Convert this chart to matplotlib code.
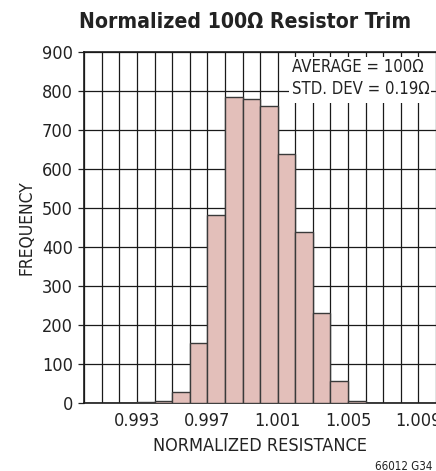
import matplotlib
matplotlib.use("Agg")
import matplotlib.pyplot as plt
from matplotlib import font_manager as fm
from matplotlib.font_manager import FontProperties
import numpy as np
import os

# Data
bin_left = [0.990, 0.991, 0.992, 0.993, 0.994, 0.995, 0.996, 0.997, 0.998, 0.999,
            1.000, 1.001, 1.002, 1.003, 1.004, 1.005, 1.006, 1.007, 1.008, 1.009]
frequency = [0, 0, 0, 2, 5, 27, 152, 481, 785, 778,
             762, 637, 438, 229, 56, 5, 0, 0, 0, 0]
bin_width = 0.001
xtick_vals = [0.993, 0.997, 1.001, 1.005, 1.009]
xtick_labels = ["0.993", "0.997", "1.001", "1.005", "1.009"]
ytick_vals = [0, 100, 200, 300, 400, 500, 600, 700, 800, 900]


def find_font(bold):
    files = [f.fname for f in fm.fontManager.ttflist]
    extra = []
    for d in ["/usr/share/fonts", "/usr/local/share/fonts", os.path.expanduser("~/.fonts")]:
        if os.path.isdir(d):
            for root, _, fs in os.walk(d):
                for f in fs:
                    if f.lower().endswith((".ttf", ".otf")):
                        extra.append(os.path.join(root, f))
    allf = list(dict.fromkeys(files + extra))
    prefs_reg = ["liberationsansnarrow-regular", "dejavusanscondensed.", "robotocondensed-regular"]
    prefs_bold = ["liberationsansnarrow-bold.", "dejavusanscondensed-bold.", "robotocondensed-bold"]
    for p in (prefs_bold if bold else prefs_reg):
        for f in allf:
            if p in os.path.basename(f).lower():
                return f
    return None


reg_path = find_font(False)
bold_path = find_font(True)


def fp(size, bold=False):
    path = bold_path if bold else reg_path
    if path:
        return FontProperties(fname=path, size=size)
    return FontProperties(family="Liberation Sans", size=size * 0.85,
                          weight='bold' if bold else 'normal')


fig = plt.figure(figsize=(4.36, 4.71), dpi=100)
ax = fig.add_axes([84.3/436, 68.3/471, 1 - 84.3/436, (402.7-51.7)/471])

ax.bar(bin_left, frequency, width=bin_width, align='edge', color='#E3BFBA',
       edgecolor='#3a3a3a', linewidth=1.0, zorder=3)

ax.set_xlim(0.990, 1.010)
ax.set_ylim(0, 900)
ax.set_xticks(np.arange(0.990, 1.0105, 0.001), minor=True)
ax.set_xticks(xtick_vals)
ax.set_xticklabels(xtick_labels)
ax.set_yticks(ytick_vals)
ax.grid(True, which='both', color='#1a1a1a', linewidth=0.9, zorder=0)
ax.set_axisbelow(True)
ax.tick_params(axis='x', which='both', length=0, pad=7, colors='#222222')
ax.tick_params(axis='y', length=4, width=0.9, pad=4, colors='#222222')
for lab in ax.get_xticklabels() + ax.get_yticklabels():
    lab.set_fontproperties(fp(13))
for s in ['left', 'bottom', 'top']:
    ax.spines[s].set_linewidth(1.2)
    ax.spines[s].set_color('#1a1a1a')
ax.spines['right'].set_visible(False)

ax.set_xlabel("NORMALIZED RESISTANCE", fontproperties=fp(13), color='#222222', labelpad=5)
ax.set_ylabel("FREQUENCY", fontproperties=fp(12.5), color='#222222', labelpad=5)

fig.text(245/436, 1 - 22/471, "Normalized 100Ω Resistor Trim", ha='center', va='center',
         fontproperties=fp(15.2, bold=True), color='#222222')

# Stats box
fig.patches.append(plt.Rectangle((289/436, 1 - 103/471), (431-289)/436, (103-57)/471,
                                 transform=fig.transFigure, facecolor='white',
                                 edgecolor='none', zorder=5))
fig.text(292/436, 1 - 67.3/471, "AVERAGE = 100Ω", ha='left', va='center',
         fontproperties=fp(12), color='#222222', zorder=6)
fig.text(292/436, 1 - 89.3/471, "STD. DEV = 0.19Ω", ha='left', va='center',
         fontproperties=fp(12), color='#222222', zorder=6)

fig.text(432/436, 1 - 466/471, "66012 G34", ha='right', va='center',
         fontproperties=fp(8.3), color='#222222')

fig.savefig("out.png", dpi=100)
